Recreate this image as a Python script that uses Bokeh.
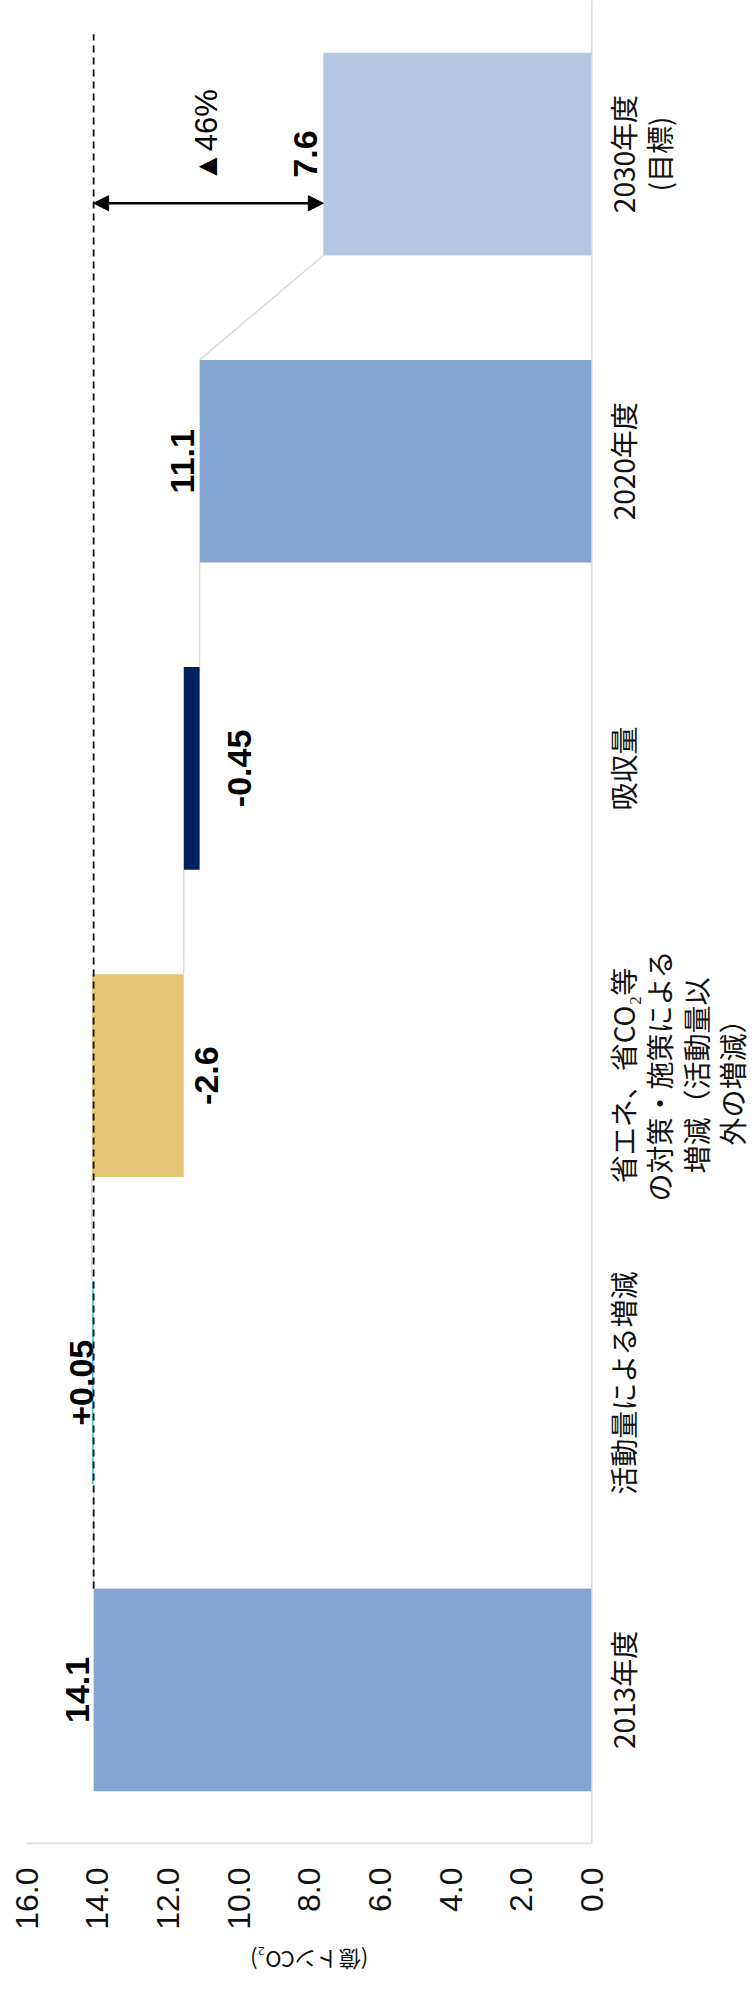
import math
from bokeh.plotting import figure
from bokeh.layouts import column
from bokeh.models import (ColumnDataSource, FactorRange, Range1d, FixedTicker,
                          PrintfTickFormatter, Arrow, NormalHead, Span)
from bokeh.transform import dodge
from bokeh.core.properties import value
from bokeh.embed import file_html
from bokeh.resources import INLINE

# ---------------- data ----------------
categories = [
    "2013年度",
    "活動量による増減",
    "省エネ、省CO₂等\nの対策・施策による\n増減（活動量以\n外の増減）",
    "吸収量",
    "2020年度",
    "2030年度\n(目標)",
]
values = [14.1, 0.05, -2.6, -0.45, 11.1, 7.6]
is_total = [True, False, False, False, True, True]
value_labels = ["14.1", "+0.05", "-2.6", "-0.45", "11.1", "7.6"]
value_ticks = [0, 2, 4, 6, 8, 10, 12, 14, 16]
axis_title = "(億トンCO₂)"
reduction_label = "▲46%"

# ---------------- style ----------------
bar_colors = ["#84A4D1", "#4FC1DC", "#E5C677", "#002060", "#84A4D1", "#B4C8E3"]
BAR = 0.66
label_offsets = [-16, -10, 23, 40, -17, -18]
grey = "#d9d9d9"
reduction_label_x = 10.91
dash_top = 0.39
arrow_dy = -0.16
pct_dy = 0.06
x_view = (16, -4.63)          # value range across the frame (frame also holds category labels)
cat_label_offset = 11

# ---------------- waterfall geometry from data ----------------
lefts, rights, levels = [], [], []
level = 0.0
for v, t in zip(values, is_total):
    if t:
        start, end = 0.0, v
        level = v
    else:
        start, end = level, level + v
        level = level + v
    lefts.append(start)
    rights.append(end)
    levels.append(level)

yr = FactorRange(factors=categories)
xr = Range1d(*x_view)
p = figure(width=755, height=1940, x_range=xr, y_range=yr,
           y_axis_location=None, output_backend="svg", toolbar_location=None,
           min_border_left=26, min_border_right=0, min_border_top=0,
           min_border_bottom=97)
p.xgrid.visible = False
p.ygrid.visible = False
p.outline_line_color = None

# category-axis line (at value 0)
p.add_layout(Span(location=0, dimension="height", line_color=grey, line_width=1.5))

# connectors
cx0, cx1, cy0, cy1 = [], [], [], []
for i in range(len(categories) - 1):
    cx0.append(levels[i])
    cx1.append(values[i + 1] if is_total[i + 1] else levels[i])
    cy0.append(categories[i])
    cy1.append(categories[i + 1])
csrc = ColumnDataSource(dict(x0=cx0, x1=cx1, c0=cy0, c1=cy1))
p.segment(x0="x0", x1="x1",
          y0=dodge("c0", BAR / 2, range=yr),
          y1=dodge("c1", -BAR / 2, range=yr),
          source=csrc, line_color=grey, line_width=1.5)

# bars
bsrc = ColumnDataSource(dict(cat=categories, left=lefts, right=rights, color=bar_colors))
p.hbar(y="cat", left="left", right="right", height=BAR, source=bsrc,
       fill_color="color", line_color=None)

# dashed reference line at 2013 level
dsrc = ColumnDataSource(dict(x=[values[0]], c0=[categories[0]], c1=[categories[-1]]))
p.segment(x0="x", x1="x",
          y0=dodge("c0", BAR / 2, range=yr),
          y1=dodge("c1", dash_top, range=yr),
          source=dsrc, line_color="#111111", line_width=1.8, line_dash="7 5")

# double arrow between 2013 and 2030 levels
asrc = ColumnDataSource(dict(x0=[values[0]], x1=[values[-1]], c=[categories[-1]]))
arrow = Arrow(start=NormalHead(size=15, fill_color="black", line_color="black"),
              end=NormalHead(size=15, fill_color="black", line_color="black"),
              x_start="x0", x_end="x1",
              y_start=dodge("c", arrow_dy, range=yr),
              y_end=dodge("c", arrow_dy, range=yr),
              source=asrc, line_color="black", line_width=2.5)
p.add_layout(arrow)

# value labels
lx, ly, lt, lo = [], [], [], []
for i, (c, v, t) in enumerate(zip(categories, values, value_labels)):
    if is_total[i] or v >= 0:
        lx.append(max(lefts[i], rights[i]))
    else:
        lx.append(min(lefts[i], rights[i]))
    ly.append(c); lt.append(t); lo.append(label_offsets[i])
lsrc = ColumnDataSource(dict(x=lx, y=ly, t=lt, o=lo))
p.text(x="x", y="y", text="t", x_offset="o", source=lsrc, angle=math.pi / 2,
       text_align="center", text_baseline="middle",
       text_font=value("Liberation Sans"), text_font_style="bold",
       text_font_size="34px", text_color="black")

# reduction label
psrc = ColumnDataSource(dict(x=[reduction_label_x], c=[categories[-1]], t=[reduction_label]))
p.text(x="x", y=dodge("c", pct_dy, range=yr), text="t", source=psrc,
       angle=math.pi / 2, text_align="center", text_baseline="middle",
       text_font=value("Liberation Sans"), text_font_size="31px", text_color="black")

# category labels (right of the value-0 line)
tsrc = ColumnDataSource(dict(cat=categories, t=categories))
p.text(x=0, y="cat", text="t", source=tsrc, angle=math.pi / 2, x_offset=cat_label_offset,
       text_align="center", text_baseline="top", text_line_height=0.91,
       text_font=value("Noto Sans CJK JP"), text_font_size="28px",
       text_color="#111111")

# value axis (bottom), line limited to the value span
xa = p.xaxis[0]
xa.ticker = FixedTicker(ticks=value_ticks)
xa.formatter = PrintfTickFormatter(format="%.1f")
xa.bounds = (value_ticks[0], value_ticks[-1])
xa.major_label_orientation = math.pi / 2
xa.major_tick_line_color = None
xa.minor_tick_line_color = None
xa.axis_line_color = grey
xa.axis_line_width = 1.5
xa.major_label_text_font = "Liberation Sans"
xa.major_label_text_font_size = "32px"
xa.major_label_text_color = "#111111"
xa.major_label_standoff = 18

# axis title strip (upside-down text, same value scale)
p3 = figure(width=755, height=58, x_range=xr, y_range=Range1d(0, 1),
            x_axis_location=None, y_axis_location=None,
            output_backend="svg", toolbar_location=None,
            min_border_left=26, min_border_right=0, min_border_top=0,
            min_border_bottom=0)
p3.xgrid.visible = False
p3.ygrid.visible = False
p3.outline_line_color = None
p3.text(x=(value_ticks[0] + value_ticks[-1]) / 2, y=0.64, text=[axis_title],
        angle=math.pi, text_align="center", text_baseline="middle",
        text_font=value("Noto Sans CJK JP"), text_font_size="22px",
        text_color="#111111")

layout = column(p, p3, spacing=0)
open("out.html", "w").write(file_html(layout, INLINE))
